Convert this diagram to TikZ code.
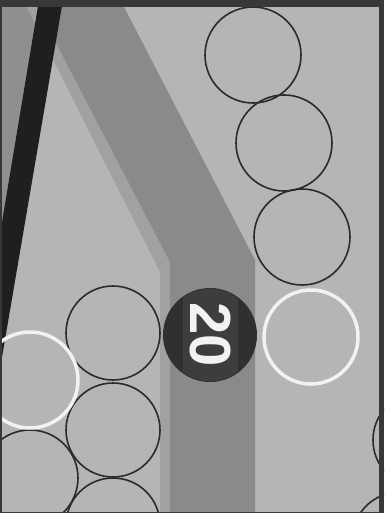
\documentclass[tikz,border=0pt]{standalone}
\usepackage{fontspec}
\newfontfamily\badgefont{Liberation Sans}
\usepackage{tikz}

\definecolor{paper}{gray}{0.71}
\definecolor{bandgray}{gray}{0.54}
\definecolor{stripgray}{gray}{0.63}
\definecolor{wedgegray}{gray}{0.56}
\definecolor{inkblack}{gray}{0.12}
\definecolor{framegray}{gray}{0.22}
\definecolor{ringink}{gray}{0.17}
\definecolor{badgedark}{gray}{0.19}
\definecolor{badgeinner}{gray}{0.24}
\definecolor{ringwhite}{gray}{0.95}

\begin{document}
\begin{tikzpicture}[x=1pt, y=-1pt,
    ring/.style={draw=ringink, line width=1.6pt},
    whitering/.style={draw=ringwhite, line width=3.5pt}]
\useasboundingbox (0,0) rectangle (384,513);
\clip (0,0) rectangle (384,513);

% Paper
\fill[paper] (0,0) rectangle (384,513);

% Wedge left of the black bar
\fill[wedgegray] (0,0) -- (50,0) -- (0,300) -- cycle;

% Light side strip, then the wide band that bends down
\fill[stripgray] (23,0) -- (60,0) -- (172,262) -- (172,513) -- (160,513) -- (160,272) -- cycle;
\fill[bandgray] (33.6,0) -- (120.4,0) -- (255,260) -- (255,513) -- (170,513) -- (170,262) -- cycle;

% Black bar
\fill[inkblack] (39,0) -- (63,0) -- (0,369) -- (0,234) -- cycle;

% Outlined rings, right column
\draw[ring] (253,55) circle (48);
\draw[ring] (284,143) circle (48);
\draw[ring] (302,237) circle (48);

% Outlined rings, left cluster
\draw[ring] (113,333) circle (47);
\draw[ring] (113,430) circle (47);
\draw[ring] (113,525) circle (47);
\draw[ring] (30,478) circle (48);

% Rings cut by the right edge
\draw[ring] (421,440) circle (48);
\draw[ring] (400,540) circle (48);

% White rings
\draw[whitering] (30,380) circle (48);
\draw[whitering] (311,337) circle (47);

% Badge with the number
\node[circle, fill=badgedark, minimum size=94pt, inner sep=0pt] (badge) at (210,335) {};
\begin{scope}
  \clip (badge.center) circle (46);
  \fill[badgeinner] (183,280) rectangle (238,390);
\end{scope}
\node[rotate=-90, text=ringwhite, inner sep=0pt,
      font=\badgefont\bfseries\fontsize{58}{58}\selectfont] (num) at (badge.center) {20};

% Frame
\fill[framegray] (0,0) rectangle (384,7);
\fill[framegray] (379,0) rectangle (384,513);
\fill[framegray] (0,0) rectangle (1.5,513);
\fill[framegray] (0,511.5) rectangle (384,513);
\end{tikzpicture}
\end{document}
